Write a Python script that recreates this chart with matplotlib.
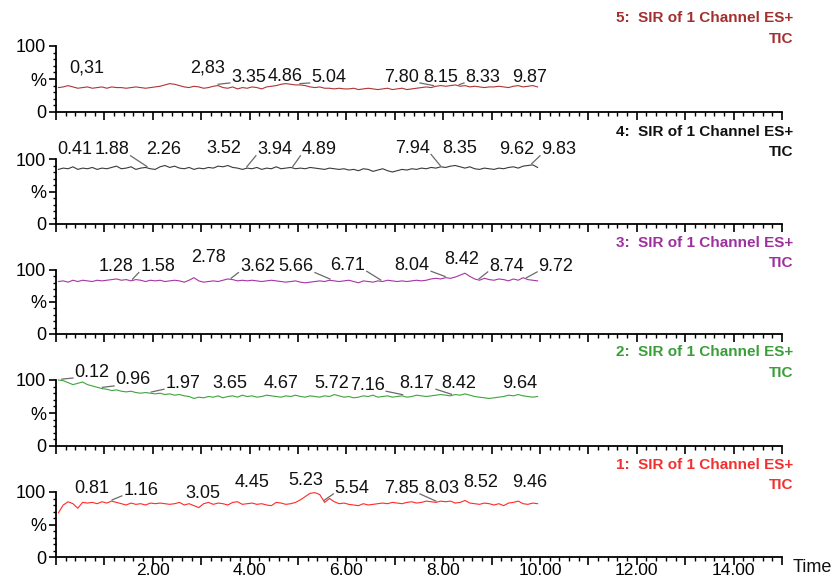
import numpy as np
import matplotlib
matplotlib.use("Agg")
import matplotlib.pyplot as plt
from matplotlib.ticker import MultipleLocator, FuncFormatter

plt.rcParams['font.family'] = ['Liberation Sans', 'DejaVu Sans']

# scan times (min)
times = np.round(np.arange(0.05, 10.0, 0.1), 2)

trace5 = [37,38,40,38,36,37,38,36,37,38,
          36,38,37,37,36,37,38,37,36,37,
          38,39,41,43,42,40,38,37,39,38,
          36,37,39,40,37,36,38,35,37,36,
          38,37,35,38,39,40,42,43,42,41,
          41,40,38,37,38,36,36,35,36,35,
          35,36,34,35,36,35,34,35,36,34,
          35,36,34,35,36,37,38,37,39,40,
          39,40,41,39,40,38,39,38,37,38,
          38,39,38,37,39,40,38,39,40,38]
trace4 = [84,86,85,88,84,86,85,87,84,86,
          85,87,89,85,86,88,84,86,87,85,
          84,88,90,87,89,86,85,87,84,86,
          85,87,86,89,88,90,87,86,84,86,
          85,87,84,86,85,88,85,86,87,85,
          86,85,87,86,85,84,86,85,84,85,
          83,84,82,85,84,81,83,85,82,80,
          82,84,83,85,84,86,85,87,86,88,
          87,89,90,88,86,88,85,84,86,85,
          84,86,85,87,88,86,89,90,91,87]
trace3 = [82,83,81,84,82,84,83,82,84,83,
          84,85,86,84,85,83,85,84,82,84,
          83,84,82,83,84,83,81,84,88,83,
          81,82,83,82,84,86,85,83,84,83,
          84,83,82,83,84,83,82,81,82,83,
          81,80,81,82,83,82,84,83,82,83,
          84,82,80,83,82,81,83,82,84,83,
          82,83,82,83,84,83,84,86,87,86,
          88,87,89,92,95,90,86,84,87,85,
          84,86,85,83,86,84,88,85,84,83]
trace2 = [100,99,96,93,95,97,93,91,89,87,
          86,84,85,83,82,83,81,80,81,80,
          79,80,78,79,77,78,76,75,72,74,
          73,75,74,76,73,75,76,74,77,75,
          76,74,75,77,76,75,74,76,75,77,
          75,74,76,75,74,76,75,78,76,74,
          75,73,74,76,75,77,74,75,76,74,
          75,76,74,75,77,76,75,76,77,78,
          77,76,78,77,79,77,75,74,73,72,
          73,74,75,77,76,78,76,75,74,75]
trace1 = [68,80,85,82,75,84,83,84,82,85,
          83,86,84,82,80,83,81,82,80,83,
          82,83,82,81,82,84,80,82,79,76,
          82,84,81,83,82,80,84,85,81,82,
          83,81,82,80,79,84,83,81,82,84,
          88,93,98,99,96,84,90,85,82,83,
          81,80,79,82,80,81,82,83,82,84,
          83,82,84,85,83,84,86,85,84,86,
          85,86,83,84,87,83,82,81,83,82,
          80,82,79,83,84,86,82,81,83,82]

# peak labels: text, text-centre time, text height (%)
labels5 = ["0,31", "2,83", "3.35", "4.86", "5.04", "7.80", "8.15", "8.33", "9.87"]
lx5 = [0.64, 3.13, 3.98, 4.74, 5.63, 7.13, 7.94, 8.82, 9.79]
ly5 = [67, 67, 53, 54, 53, 53, 53, 53, 53]

labels4 = ["0.41", "1.88", "2.26", "3.52", "3.94", "4.89", "7.94", "8.35", "9.62", "9.83"]
lx4 = [0.39, 1.15, 2.23, 3.47, 4.52, 5.44, 7.36, 8.35, 9.51, 10.39]
ly4 = [114, 114, 114, 116, 114, 114, 116, 116, 114, 114]

labels3 = ["1.28", "1.58", "2.78", "3.62", "5.66", "6.71", "8.04", "8.42", "8.74", "9.72"]
lx3 = [1.25, 2.10, 3.16, 4.16, 4.96, 6.03, 7.36, 8.38, 9.31, 10.33]
ly3 = [105, 105, 119, 105, 105, 107, 107, 116, 106, 106]

labels2 = ["0.12", "0.96", "1.97", "3.65", "4.67", "5.72", "7.16", "8.17", "8.42", "9.64"]
lx2 = [0.74, 1.59, 2.62, 3.60, 4.64, 5.69, 6.43, 7.46, 8.33, 9.57]
ly2 = [112, 100, 95, 95, 95, 95, 92, 95, 95, 95]

labels1 = ["0.81", "1.16", "3.05", "4.45", "5.23", "5.54", "7.85", "8.03", "8.52", "9.46"]
lx1 = [0.74, 1.75, 3.03, 4.05, 5.17, 6.12, 7.13, 7.96, 8.78, 9.79]
ly1 = [106, 103, 98, 115, 118, 106, 106, 106, 114, 114]

titles = ["5:  SIR of 1 Channel ES+", "4:  SIR of 1 Channel ES+", "3:  SIR of 1 Channel ES+",
          "2:  SIR of 1 Channel ES+", "1:  SIR of 1 Channel ES+"]
x_ticklabels = ["2.00", "4.00", "6.00", "8.00", "10.00", "12.00", "14.00"]

trace_colors = ["#B03434", "#3a3a3a", "#A734A7", "#3FA33F", "#FF2A2A"]
title_colors = ["#A3302F", "#111111", "#9E2F9E", "#3A9E3A", "#F23030"]

# layout (pixel rows of 0% and 100% per panel)
W, H = 834, 583
rows = [(112, 46), (224, 159), (334, 270), (446, 380), (557, 492)]
x0px, x1px = 56, 782

fig = plt.figure(figsize=(W / 100, H / 100), dpi=100)

panels = [
    (trace5, labels5, lx5, ly5),
    (trace4, labels4, lx4, ly4),
    (trace3, labels3, lx3, ly3),
    (trace2, labels2, lx2, ly2),
    (trace1, labels1, lx1, ly1),
]

even_labels = {2 * (i + 1): s for i, s in enumerate(x_ticklabels)}

for k, (tr, labs, lxs, lys) in enumerate(panels):
    y0, y100 = rows[k]
    ax = fig.add_axes([x0px / W, 1 - y0 / H, (x1px - x0px) / W, (y0 - y100) / H])
    ax.set_xlim(0, 15)
    ax.set_ylim(0, 100)
    for s in ("top", "right"):
        ax.spines[s].set_visible(False)
    for s in ("left", "bottom"):
        ax.spines[s].set_linewidth(1.3)
    ax.patch.set_alpha(0)

    ax.plot(times, tr, color=trace_colors[k], lw=0.8, clip_on=False)

    # ticks
    ax.xaxis.set_major_locator(MultipleLocator(1))
    ax.xaxis.set_minor_locator(MultipleLocator(0.2))
    if k == 4:
        ax.xaxis.set_major_formatter(FuncFormatter(
            lambda v, p: even_labels.get(int(round(v)), "") if abs(v - round(v)) < 1e-6 else ""))
    else:
        ax.xaxis.set_major_formatter(FuncFormatter(lambda v, p: ""))
    ax.tick_params(axis="x", which="major", length=5.5, width=1.2, direction="out", labelsize=12.5, pad=-1)
    ax.tick_params(axis="x", which="minor", length=3, width=1.0, direction="out")
    ax.set_yticks([0, 50, 100])
    ax.set_yticklabels(["0", "%", "100"])
    ax.yaxis.set_minor_locator(MultipleLocator(10))
    ax.tick_params(axis="y", which="major", length=5, width=1.2, direction="out", labelsize=13, pad=2)
    ax.tick_params(axis="y", which="minor", length=2.5, width=1.0, direction="out")

    # peak labels
    trv = np.array(tr, dtype=float)
    half = 0.37
    for txt, tx, ty in zip(labs, lxs, lys):
        ax.text(tx, ty, txt, ha="center", va="center", fontsize=13, color="#111111", clip_on=False)
        pk = float(txt.replace(",", "."))
        yv = float(np.interp(pk, times, trv))
        left, right = tx - half, tx + half
        if pk < left - 0.03:
            ax.plot([pk, left - 0.02], [yv + 2, ty - 9], color="#6a6a6a", lw=0.9, clip_on=False)
        elif pk > right + 0.03:
            ax.plot([pk, right + 0.02], [yv + 2, ty - 9], color="#6a6a6a", lw=0.9, clip_on=False)

    ax.text(1.015, 1.42, titles[k], transform=ax.transAxes,
            ha="right", va="center", fontsize=11, fontweight="bold", color=title_colors[k])
    ax.text(1.015, 1.11, "TIC", transform=ax.transAxes,
            ha="right", va="center", fontsize=11, fontweight="bold", color=title_colors[k])

fig.text(793 / W, 1 - 568 / H, "Time", ha="left", va="center", fontsize=13, color="#111111")

fig.savefig("out.png", dpi=100)
